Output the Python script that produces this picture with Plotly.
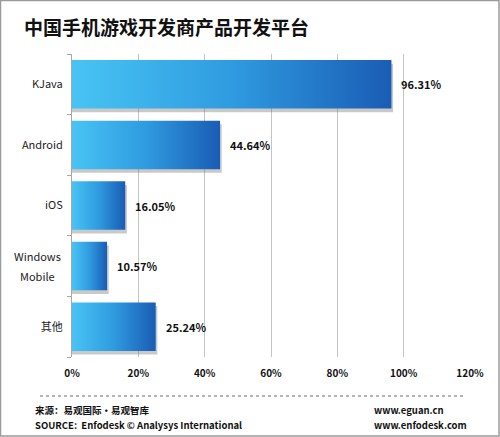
import plotly.graph_objects as go

# Chart data
platforms = ["KJava", "Android", "iOS", "Windows Mobile", "其他"]
shares = [96.31, 44.64, 16.05, 10.57, 25.24]
x_ticks = [0, 20, 40, 60, 80, 100, 120]
x_tick_labels = ["0%", "20%", "40%", "60%", "80%", "100%", "120%"]

title_text = "中国手机游戏开发商产品开发平台"
source_cn = "来源：易观国际·易观智库"
source_en = "SOURCE:  Enfodesk © Analysys International"
site_1 = "www.eguan.cn"
site_2 = "www.enfodesk.com"

W, H = 500, 437
ML, MR, MT, MB = 72, 30, 54, 80
PW, PH = W - ML - MR, H - MT - MB


def px_x(x):
    return (x - ML) / PW


def px_y(y):
    return (H - MB - y) / PH


FONT = "Noto Sans CJK SC, Open Sans, sans-serif"
half = 0.4  # half bar thickness in category units

fig = go.Figure()

# soft drop shadows under each bar
for i, v in enumerate(shares):
    fig.add_trace(go.Scatter(
        x=[0, v + 0.5, v + 0.5, 0, 0],
        y=[i - half + 0.06, i - half + 0.06, i + half + 0.06, i + half + 0.06, i - half + 0.06],
        fill="toself", mode="lines",
        line=dict(width=0, color="rgba(0,0,0,0)"),
        fillcolor="rgba(120,120,120,0.4)",
        hoverinfo="skip", showlegend=False,
    ))

# gradient-filled bars
for i, (name, v) in enumerate(zip(platforms, shares)):
    fig.add_trace(go.Scatter(
        x=[0, v, v, 0, 0],
        y=[i - half, i - half, i + half, i + half, i - half],
        fill="toself", mode="lines",
        line=dict(width=0, color="rgba(0,0,0,0)"),
        fillgradient=dict(type="horizontal",
                          colorscale=[[0, "#48c4f4"], [0.5, "#2f9be0"], [1, "#1a5cb4"]]),
        name=name, hoverinfo="x+name", showlegend=False,
    ))

# invisible anchor so the boundary-tick axis is drawn
fig.add_trace(go.Scatter(x=[0], y=[0], mode="markers", yaxis="y2",
                         marker=dict(opacity=0), hoverinfo="skip", showlegend=False))

# value labels
for i, v in enumerate(shares):
    fig.add_annotation(
        x=v, y=i, xref="x", yref="y", text=f"<b>{v:.2f}%</b>",
        showarrow=False, xanchor="left", yanchor="middle", xshift=8,
        font=dict(family=FONT, size=11, color="#111111"),
    )

# category labels; long names are split over two spaced, centred lines
cat_font = dict(family=FONT, size=11, color="#222222")
tick_text = []
for i, name in enumerate(platforms):
    words = name.split(" ")
    if len(words) > 1:
        tick_text.append("")
        for j, w in enumerate(words):
            fig.add_annotation(
                x=0, y=i, xref="x", yref="y", text=w, showarrow=False,
                xanchor="center", yanchor="middle", xshift=-35,
                yshift=10 - 20 * j, font=cat_font,
            )
    else:
        tick_text.append(name)

fig.update_layout(
    width=W, height=H,
    margin=dict(l=ML, r=MR, t=MT, b=MB),
    paper_bgcolor="white", plot_bgcolor="white",
    title=dict(
        text=f"<b>{title_text}</b>", x=24 / W, xanchor="left",
        y=1 - 28 / H, yanchor="middle",
        font=dict(family=FONT, size=19, color="#111111"),
    ),
    xaxis=dict(
        range=[0, 120], tickvals=x_ticks, ticktext=[f"<b>{t}</b>" for t in x_tick_labels],
        showgrid=True, gridcolor="#c4c4c4", gridwidth=1,
        zeroline=False, showline=False,
        ticks="outside", ticklen=7, tickcolor="rgba(0,0,0,0)",
        tickfont=dict(family=FONT, size=10, color="#111111"),
        fixedrange=True,
    ),
    yaxis=dict(
        range=[4.5, -0.5], tickvals=list(range(len(platforms))), ticktext=tick_text,
        showgrid=False, zeroline=False,
        showline=True, linecolor="#a8a8a8", linewidth=1,
        ticks="outside", ticklen=6, tickcolor="rgba(0,0,0,0)",
        tickfont=cat_font,
        fixedrange=True,
    ),
    yaxis2=dict(
        overlaying="y", side="left", range=[4.5, -0.5],
        tickvals=[k - 0.5 for k in range(len(platforms) + 1)],
        ticks="outside", ticklen=4, tickcolor="#a8a8a8",
        showticklabels=False, showgrid=False, zeroline=False, showline=False,
        fixedrange=True,
    ),
)

# outer frame
fig.add_shape(type="rect", xref="paper", yref="paper",
              x0=px_x(0.5), x1=px_x(W - 1), y0=px_y(H - 1), y1=px_y(0.5),
              line=dict(color="#9a9a9a", width=1.5), fillcolor="rgba(0,0,0,0)")

# footer separator
fig.add_shape(type="line", xref="paper", yref="paper",
              x0=px_x(40), x1=px_x(463), y0=px_y(396), y1=px_y(396),
              line=dict(color="#b4b4b4", width=2, dash="dot"))

footer_font = dict(family=FONT, size=9.5, color="#111111")
for text, x, y in [
    (source_cn, 33, 410),
    (source_en, 33, 425),
    (site_1, 372, 410),
    (site_2, 372, 425),
]:
    fig.add_annotation(x=px_x(x), y=px_y(y), xref="paper", yref="paper",
                       text=f"<b>{text}</b>", showarrow=False,
                       xanchor="left", yanchor="middle", font=footer_font)

fig.write_html("out.html")
